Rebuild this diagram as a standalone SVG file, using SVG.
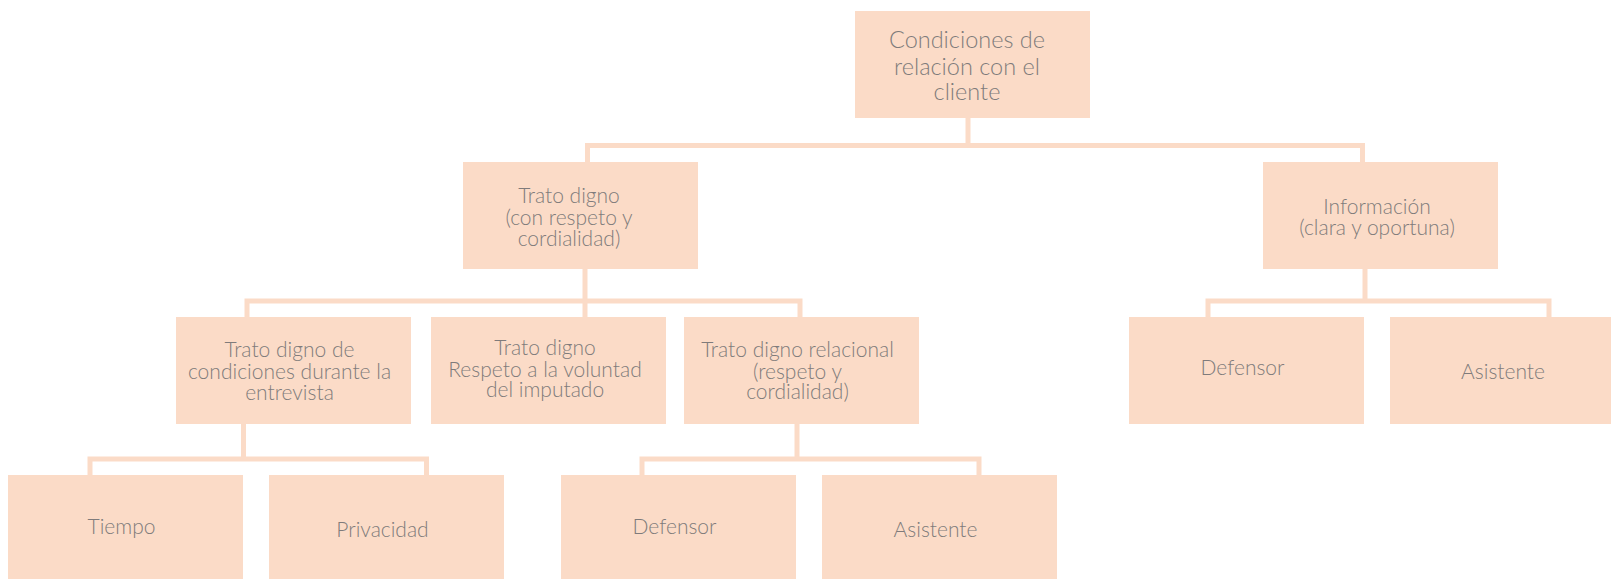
<svg xmlns="http://www.w3.org/2000/svg" width="1611" height="579" viewBox="0 0 1611 579">
<style>
.box{fill:#FBDBC7}
.t{font-family:Lato,"Liberation Sans",sans-serif;font-weight:300;font-size:21px;fill:#7f7b7b;text-anchor:middle}
.big{font-size:23.5px}
.c{fill:none;stroke:#FBDBC7;stroke-width:5}
</style>
<rect width="1611" height="579" fill="#ffffff"/>
<g id="connectors">
<path class="c" d="M968,118 V145.5 M587.5,162 V145.5 H1362.5 V162"/>
<path class="c" d="M585,269 V317 M247,317 V301 H800 V317"/>
<path class="c" d="M1365,269 V301 M1208,317 V301 H1549 V317"/>
<path class="c" d="M243.5,424 V459 M90,475 V459 H426.5 V475"/>
<path class="c" d="M797,424 V459 M642,475 V459 H979 V475"/>
</g>
<g id="n-root"><rect class="box" x="855" y="11" width="235" height="107"/>
<text class="t big" x="967" y="48">Condiciones de</text><text class="t big" x="967" y="75">relación con el</text><text class="t big" x="967" y="100">cliente</text></g>
<g id="n-trato"><rect class="box" x="463" y="162" width="235" height="107"/>
<text class="t" x="569" y="203">Trato digno</text><text class="t" x="569" y="225">(con respeto y</text><text class="t" x="569" y="246">cordialidad)</text></g>
<g id="n-info"><rect class="box" x="1263" y="162" width="235" height="107"/>
<text class="t" x="1377" y="214">Información</text><text class="t" x="1377" y="235">(clara y oportuna)</text></g>
<g id="n-cond"><rect class="box" x="176" y="317" width="235" height="107"/>
<text class="t" x="289.5" y="357">Trato digno de</text><text class="t" x="289.5" y="379">condiciones durante la</text><text class="t" x="289.5" y="399.5">entrevista</text></g>
<g id="n-volun"><rect class="box" x="431" y="317" width="235" height="107"/>
<text class="t" x="545" y="355">Trato digno</text><text class="t" x="545" y="376.7">Respeto a la voluntad</text><text class="t" x="545" y="396.7">del imputado</text></g>
<g id="n-rel"><rect class="box" x="684" y="317" width="235" height="107"/>
<text class="t" x="797.5" y="357">Trato digno relacional</text><text class="t" x="797.5" y="378.5">(respeto y</text><text class="t" x="797.5" y="399">cordialidad)</text></g>
<g id="n-def2"><rect class="box" x="1129" y="317" width="235" height="107"/>
<text class="t" x="1242.5" y="375">Defensor</text></g>
<g id="n-asi2"><rect class="box" x="1390" y="317" width="235" height="107"/>
<text class="t" x="1503" y="379">Asistente</text></g>
<g id="n-tiempo"><rect class="box" x="8" y="475" width="235" height="107"/>
<text class="t" x="121.5" y="534">Tiempo</text></g>
<g id="n-priv"><rect class="box" x="269" y="475" width="235" height="107"/>
<text class="t" x="382.5" y="536.7">Privacidad</text></g>
<g id="n-def1"><rect class="box" x="561" y="475" width="235" height="107"/>
<text class="t" x="674.5" y="534">Defensor</text></g>
<g id="n-asi1"><rect class="box" x="822" y="475" width="235" height="107"/>
<text class="t" x="935.5" y="536.7">Asistente</text></g>
</svg>
